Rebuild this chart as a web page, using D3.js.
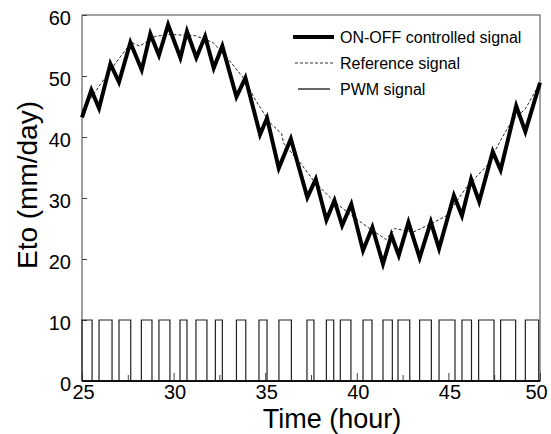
<!DOCTYPE html>
<html>
<head>
<meta charset="utf-8">
<script src="https://cdn.jsdelivr.net/npm/d3@7"></script>
<style>
  body { margin: 0; background: #fff; }
  svg { display: block; font-family: "Liberation Sans", Arial, sans-serif; }
</style>
</head>
<body>
<svg id="chart"></svg>
<script>
// ON-OFF controlled signal (vertices)
const onoffHours = [25.0, 25.51, 25.93, 26.55, 27.02, 27.64, 28.26, 28.73, 29.2, 29.7,
  30.37, 30.73, 31.24, 31.72, 32.19, 32.66, 33.43, 33.92, 34.72, 35.1,
  35.74, 36.4, 37.3, 37.76, 38.34, 38.78, 39.2, 39.7, 40.34, 40.85,
  41.43, 41.89, 42.29, 42.82, 43.43, 44.04, 44.49, 45.3, 45.74, 46.24,
  46.68, 47.42, 47.85, 48.7, 49.2, 50.0];
const onoffValues = [43.2, 47.7, 44.7, 52.0, 49.0, 55.5, 51.0, 56.9, 53.4, 58.4,
  53.0, 57.3, 53.0, 56.5, 51.3, 54.9, 46.6, 49.7, 40.4, 43.1,
  34.9, 39.7, 30.1, 33.1, 26.4, 29.6, 25.5, 29.0, 21.4, 25.2,
  19.2, 23.9, 20.6, 26.0, 20.2, 26.1, 21.7, 30.4, 27.1, 33.1,
  29.4, 37.6, 34.6, 45.1, 40.9, 48.9];

// Reference signal
const refHours = [25, 26, 27, 27.7, 28.15, 29, 29.8, 30.5, 31.2, 32.15, 33, 33.8,
  34.5, 35.25, 35.9, 36.0, 36.9, 37.7, 38.7, 39.6, 40.7, 41.6, 42.07, 43.07,
  44.07, 44.9, 46.0, 47.1, 48.1, 48.5, 49.2, 50];
const refValues = [44.3, 48.6, 52.8, 55.5, 54.9, 56.5, 56.8, 56.7, 56.6, 55.5, 52.7, 49.7,
  45.9, 42.4, 40.5, 39.0, 35.8, 32.6, 29.6, 27.4, 25.0, 23.2, 25.0, 24.4,
  25.8, 27.1, 31.8, 35.3, 40.8, 42.7, 44.6, 48.9];

// PWM signal: pulse on / off times (hour), level when on
const pwmOn  = [25.0, 25.93, 27.02, 28.24, 29.2, 30.35, 31.22, 32.28, 33.43, 34.66, 35.75, 37.28,
  38.34, 39.1, 40.34, 41.43, 42.25, 43.43, 44.49, 45.74, 46.65, 47.85, 49.2];
const pwmOff = [25.55, 26.64, 27.66, 28.82, 29.8, 30.73, 31.82, 32.66, 33.94, 35.1, 36.43, 37.66,
  38.74, 39.68, 40.83, 41.94, 42.89, 44.07, 45.36, 46.26, 47.49, 48.67, 49.93];
const pwmLevel = 10;

const xTicks = [25, 30, 35, 40, 45, 50];
const xMinorTicks = [27.5, 32.5, 37.5, 42.5, 47.5];
const yTicks = [0, 10, 20, 30, 40, 50, 60];
const legendLabels = ["ON-OFF controlled signal", "Reference signal", "PWM signal"];

const W = 551, H = 434;
const margin = { top: 14, right: 11, bottom: 53, left: 82 };
const width = W - margin.left - margin.right;
const height = H - margin.top - margin.bottom;

const svg = d3.select('#chart').attr('width', W).attr('height', H);
const chart = svg.append('g').attr('transform', `translate(${margin.left},${margin.top})`);

const xScale = d3.scaleLinear().domain([25, 50]).range([0, width]);
const yScale = d3.scaleLinear().domain([0, 60]).range([height, 1]);

// axes (ticks pointing inward)
const xAxis = d3.axisBottom(xScale).tickValues(xTicks).tickSize(-8).tickPadding(4);
const xMinor = d3.axisBottom(xScale).tickValues(xMinorTicks).tickSize(-6).tickFormat('');
const yAxis = d3.axisLeft(yScale).tickValues(yTicks).tickSize(-5).tickPadding(11);

const gx = chart.append('g').attr('transform', `translate(0,${height})`).call(xAxis);
chart.append('g').attr('transform', `translate(0,${height})`).call(xMinor);
const gy = chart.append('g').call(yAxis);

chart.selectAll('.domain').remove();
chart.selectAll('.tick line').attr('stroke', '#444');
gx.selectAll('text').attr('font-size', 20).attr('fill', '#000')
  .attr('dx', d => d === 50 ? -4 : 1);
gy.selectAll('text').attr('font-size', 20).attr('fill', '#000').attr('dy', '0.45em');

// frame
chart.append('rect')
  .attr('x', 0).attr('y', 1)
  .attr('width', width).attr('height', height - 1)
  .attr('fill', 'none').attr('stroke', '#444').attr('stroke-width', 1);

// PWM step path
const pwmPoints = [];
pwmOn.forEach((t, i) => {
  pwmPoints.push([t, 0], [t, pwmLevel], [pwmOff[i], pwmLevel], [pwmOff[i], 0]);
});
pwmPoints.push([50, 0]);

const line = d3.line()
  .x(d => xScale(d[0]))
  .y(d => yScale(d[1]));

chart.append('path')
  .datum(pwmPoints)
  .attr('d', line)
  .attr('fill', 'none')
  .attr('stroke', '#222')
  .attr('stroke-width', 1.2);

// heavier baseline along zero, as in the original
chart.append('line')
  .attr('x1', 0).attr('x2', width)
  .attr('y1', yScale(0)).attr('y2', yScale(0))
  .attr('stroke', '#111').attr('stroke-width', 2);

// reference signal
chart.append('path')
  .datum(refHours.map((h, i) => [h, refValues[i]]))
  .attr('d', line)
  .attr('fill', 'none')
  .attr('stroke', '#222')
  .attr('stroke-width', 1)
  .attr('stroke-dasharray', '3,2');

// ON-OFF controlled signal
chart.append('path')
  .datum(onoffHours.map((h, i) => [h, onoffValues[i]]))
  .attr('d', line)
  .attr('fill', 'none')
  .attr('stroke', '#000')
  .attr('stroke-width', 4)
  .attr('stroke-linejoin', 'miter');

// legend
const legendStyles = [
  { w: 4, dash: null, x0: 293, x1: 334 },
  { w: 1, dash: '3,2', x0: 295, x1: 334 },
  { w: 1.2, dash: null, x0: 298, x1: 330 }
];
const legend = svg.append('g');
legendLabels.forEach((lab, i) => {
  const y = 37 + i * 26;
  const s = legendStyles[i];
  legend.append('line')
    .attr('x1', s.x0).attr('x2', s.x1).attr('y1', y).attr('y2', y)
    .attr('stroke', i === 1 ? '#333' : '#000')
    .attr('stroke-width', s.w)
    .attr('stroke-dasharray', s.dash);
  legend.append('text')
    .attr('x', 340).attr('y', y + 6)
    .attr('font-size', 16)
    .text(lab);
});

// axis titles
svg.append('text')
  .attr('x', 332).attr('y', 428)
  .attr('text-anchor', 'middle')
  .attr('font-size', 27)
  .text('Time (hour)');

svg.append('text')
  .attr('transform', 'translate(37,185) rotate(-90)')
  .attr('text-anchor', 'middle')
  .attr('font-size', 28)
  .text('Eto (mm/day)');
</script>
</body>
</html>
